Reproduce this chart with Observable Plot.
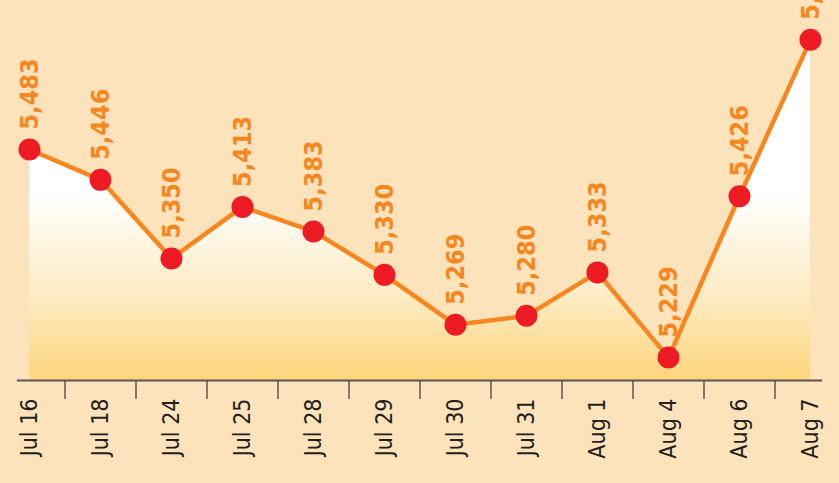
<!DOCTYPE html>
<html>
<head>
<meta charset="utf-8">
<script src="https://cdn.jsdelivr.net/npm/d3@7"></script>
<script src="https://cdn.jsdelivr.net/npm/@observablehq/plot@0.6"></script>
<style>
  html, body { margin: 0; padding: 0; background: #fde3bb; overflow: hidden; }
  #chart svg { display: block; overflow: visible; }
</style>
</head>
<body>
<div id="chart"></div>
<script>
const dates = ["Jul 16","Jul 18","Jul 24","Jul 25","Jul 28","Jul 29","Jul 30","Jul 31","Aug 1","Aug 4","Aug 6","Aug 7"];
const values = [5483, 5446, 5350, 5413, 5383, 5330, 5269, 5280, 5333, 5229, 5426, 5617];
const yMin = 5201, yMax = 5665;

const data = dates.map((d, i) => ({i, date: d, v: values[i]}));
const between = d3.range(dates.length - 1).map(i => i + 0.5);

const defs = () => {
  const g = d3.create("svg:defs");
  const lg = g.append("linearGradient").attr("id", "areaGrad")
    .attr("x1", 0).attr("y1", 0).attr("x2", 0).attr("y2", 1);
  lg.append("stop").attr("offset", "0%").attr("stop-color", "#ffffff");
  lg.append("stop").attr("offset", "45%").attr("stop-color", "#ffffff");
  lg.append("stop").attr("offset", "75%").attr("stop-color", "#fdecc4");
  lg.append("stop").attr("offset", "100%").attr("stop-color", "#fdd57c");
  return g.node();
};

const chart = Plot.plot({
  width: 839,
  height: 483,
  marginTop: 0,
  marginBottom: 103,
  marginLeft: 29,
  marginRight: 29,
  style: {background: "#fde3bb", overflow: "visible"},
  x: {type: "linear", domain: [0, dates.length - 1], axis: null, label: null},
  y: {domain: [yMin, yMax], axis: null, label: null},
  marks: [
    defs,
    Plot.areaY(data, {x: "i", y1: yMin, y2: "v", fill: "url(#areaGrad)"}),
    Plot.ruleY([yMin], {x1: -0.17, x2: dates.length - 1 + 0.17, stroke: "#5a5550", strokeWidth: 2}),
    Plot.axisX(between, {tickSize: 19, tickFormat: () => "", stroke: "#5a5550", strokeWidth: 1.5, anchor: "bottom", tickPadding: 0, label: null}),
    Plot.axisX(d3.range(dates.length), {
      anchor: "bottom", tickSize: 0, tickPadding: 18, tickRotate: -90, label: null,
      tickFormat: i => dates[i], fontSize: 23, fill: "#231f20",
      fontFamily: "'Liberation Sans Narrow', 'DejaVu Sans Condensed', sans-serif"
    }),
    Plot.line(data, {x: "i", y: "v", stroke: "#f7861f", strokeWidth: 4.5}),
    Plot.dot(data, {x: "i", y: "v", r: 11, fill: "#ed1c24"}),
    Plot.text(data, {
      x: "i", y: "v", text: d => d3.format(",")(d.v), rotate: -90,
      textAnchor: "start", lineAnchor: "middle", dy: -20,
      fill: "#f7861f", fontSize: 25, fontWeight: "bold",
      fontFamily: "'DejaVu Sans Condensed', 'Liberation Sans Narrow', sans-serif"
    })
  ]
});
document.getElementById("chart").appendChild(chart);
</script>
</body>
</html>
